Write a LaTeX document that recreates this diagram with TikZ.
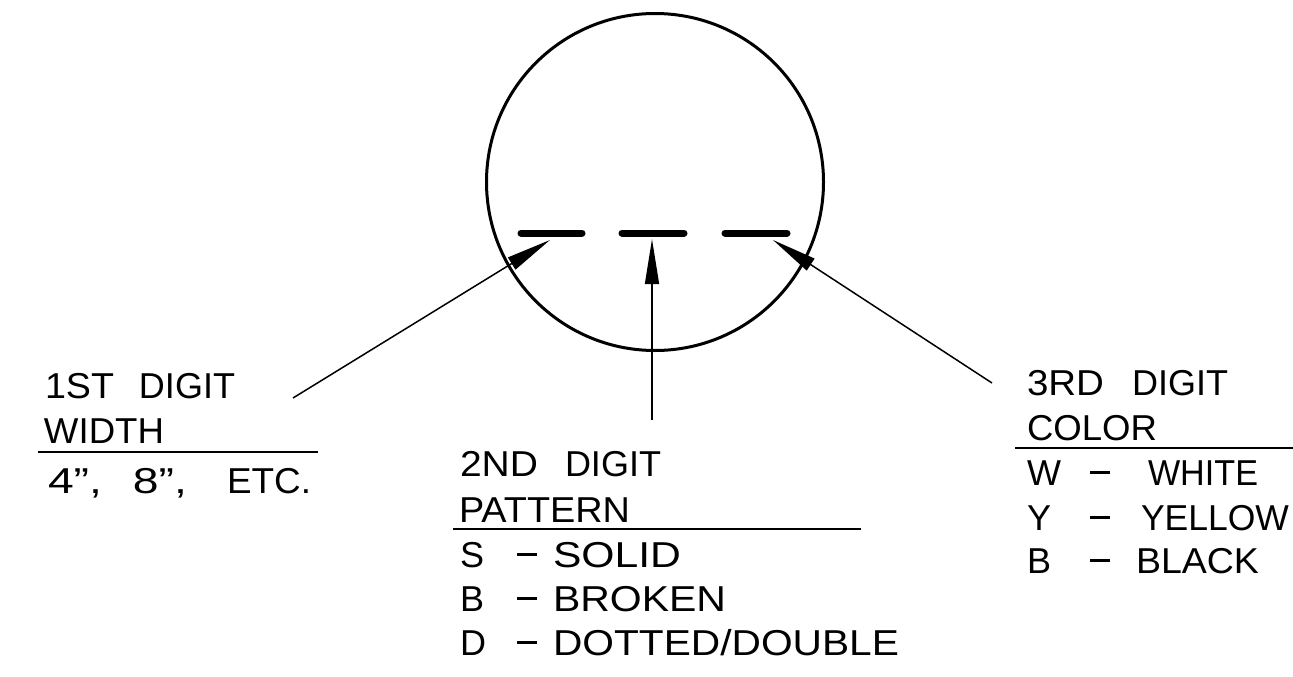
\documentclass[tikz,border=0pt]{standalone}
\usepackage{fontspec}
\setmainfont{Liberation Sans}
\usetikzlibrary{arrows.meta}

% stretch a word horizontally to a given width, keeping its height
\newcommand{\fitw}[2]{\resizebox{#1}{\height}{#2}}
% the dash between a code letter and its meaning
\newcommand{\dashmark}{\rule[11pt]{20pt}{2.6pt}}
% code line: letter column, dash column, stretched word
\newcommand{\codeline}[5]{\makebox[#1][l]{#3}\makebox[#2][l]{\dashmark}\fitw{#5}{#4}}

\tikzset{
  lbl/.style={anchor=base west, inner sep=0pt, outer sep=0pt,
              font=\fontsize{36}{44}\selectfont},
  ring/.style={circle, draw, line width=3pt, inner sep=0pt, minimum size=337pt},
  bar/.style={line width=7pt, line cap=round},
  pointer/.style={line width=1.5pt, -{Triangle[length=45pt, width=14pt]}},
  rule/.style={line width=1.5pt}
}

\begin{document}
\begin{tikzpicture}[x=1pt, y=-1pt]
  \useasboundingbox (0,0) rectangle (1293,677);

  % the marking symbol: circle with three digit slots
  \node[ring] (ring) at (655,182) {};
  \coordinate (s1a) at (521,233); \coordinate (s1b) at (582,233);
  \coordinate (s2a) at (622,233); \coordinate (s2b) at (684,233);
  \coordinate (s3a) at (725,233); \coordinate (s3b) at (787,233);
  \draw[bar] (s1a) -- (s1b);
  \draw[bar] (s2a) -- (s2b);
  \draw[bar] (s3a) -- (s3b);

  % leader arrows
  \coordinate (tip1) at (550,240);  \coordinate (tail1) at (293,398);
  \coordinate (tip2) at (652,239);  \coordinate (tail2) at (652,420);
  \coordinate (tip3) at (773,240);  \coordinate (tail3) at (992,383);
  \draw[pointer] (tail1) -- (tip1);
  \draw[pointer] (tail2) -- (tip2);
  \draw[pointer] (tail3) -- (tip3);

  % first digit: width
  \node[lbl] (d1a) at (45,398) {\makebox[94pt][l]{\fitw{69pt}{1ST}}\fitw{96pt}{DIGIT}};
  \node[lbl] (d1b) at (44,443) {\fitw{120pt}{WIDTH}};
  \coordinate (r1a) at (38,452); \coordinate (r1b) at (318,452);
  \draw[rule] (r1a) -- (r1b);
  \node[lbl] (d1c) at (48,493) {\makebox[85pt][l]{\fitw{54pt}{4”,}}\makebox[94pt][l]{\fitw{54pt}{8”,}}\fitw{84pt}{ETC.}};

  % second digit: pattern
  \node[lbl] (d2a) at (460,476) {\makebox[105pt][l]{\fitw{78pt}{2ND}}\fitw{96pt}{DIGIT}};
  \node[lbl] (d2b) at (459,522) {\fitw{171pt}{PATTERN}};
  \coordinate (r2a) at (453,529); \coordinate (r2b) at (861,529);
  \draw[rule] (r2a) -- (r2b);
  \node[lbl] (d2c) at (460,567) {\codeline{57pt}{36pt}{S}{SOLID}{128pt}};
  \node[lbl] (d2d) at (460,611) {\codeline{57pt}{36pt}{B}{BROKEN}{173pt}};
  \node[lbl] (d2e) at (460,655) {\codeline{57pt}{36pt}{D}{DOTTED/DOUBLE}{346pt}};

  % third digit: color
  \node[lbl] (d3a) at (1027,395) {\makebox[105pt][l]{\fitw{77pt}{3RD}}\fitw{96pt}{DIGIT}};
  \node[lbl] (d3b) at (1027,440) {\fitw{130pt}{COLOR}};
  \coordinate (r3a) at (1015,448); \coordinate (r3b) at (1293,448);
  \draw[rule] (r3a) -- (r3b);
  \node[lbl] (d3c) at (1027,485) {\codeline{63pt}{58pt}{W}{WHITE}{110pt}};
  \node[lbl] (d3d) at (1027,530) {\codeline{63pt}{51pt}{Y}{YELLOW}{148pt}};
  \node[lbl] (d3e) at (1027,573) {\codeline{63pt}{46pt}{B}{BLACK}{123pt}};
\end{tikzpicture}
\end{document}
